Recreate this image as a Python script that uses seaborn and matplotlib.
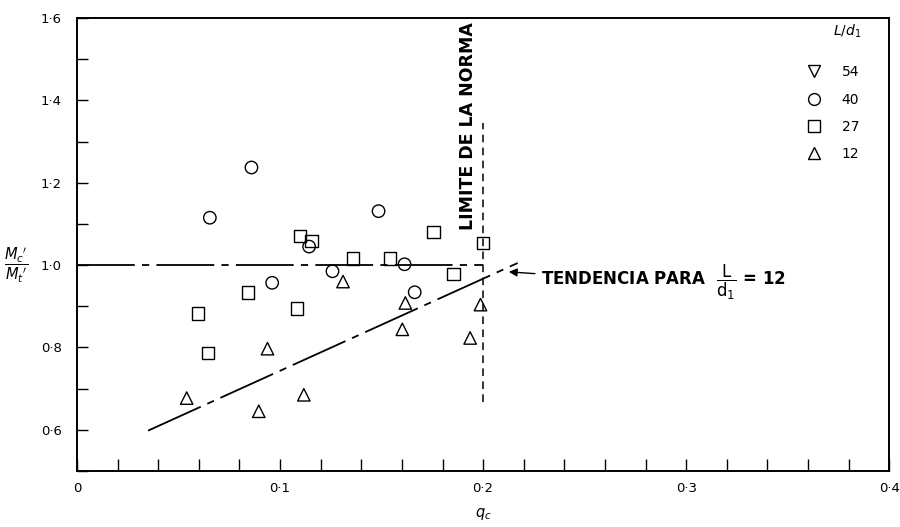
import numpy as np
import pandas as pd
import matplotlib
matplotlib.use("Agg")
import matplotlib.pyplot as plt
import seaborn as sns
from matplotlib.lines import Line2D
from matplotlib.ticker import MultipleLocator, FuncFormatter

# values
q_40 = [0.0654, 0.0859, 0.0961, 0.1143, 0.1258, 0.1485, 0.1613, 0.1663]
m_40 = [1.115, 1.237, 0.957, 1.045, 0.985, 1.131, 1.002, 0.934]

q_27 = [0.0597, 0.0646, 0.0843, 0.1084, 0.1097, 0.1154, 0.1359, 0.1540, 0.1756, 0.1854, 0.1999]
m_27 = [0.882, 0.787, 0.933, 0.895, 1.071, 1.058, 1.016, 1.016, 1.080, 0.979, 1.054]

q_12 = [0.0540, 0.0895, 0.0938, 0.1117, 0.1310, 0.1602, 0.1617, 0.1936, 0.1987]
m_12 = [0.677, 0.645, 0.797, 0.685, 0.960, 0.844, 0.908, 0.823, 0.904]

ref_x = [0.0, 0.2]
ref_y = [1.0, 1.0]
trend_x = [0.035, 0.217]
trend_y = [0.598, 1.005]
norma_x = [0.2, 0.2]
norma_y = [0.668, 1.346]

legend_labels = ["54", "40", "27", "12"]
legend_markers = ["v", "o", "s", "^"]

df = pd.concat([
    pd.DataFrame({"q": q_40, "m": m_40, "ld": "40"}),
    pd.DataFrame({"q": q_27, "m": m_27, "ld": "27"}),
    pd.DataFrame({"q": q_12, "m": m_12, "ld": "12"}),
])

sns.set_style("ticks")
plt.rcParams["font.family"] = ["DejaVu Sans"]
plt.rcParams["text.color"] = "black"
plt.rcParams["xtick.color"] = "black"
plt.rcParams["ytick.color"] = "black"
plt.rcParams["axes.labelcolor"] = "black"

fig = plt.figure(figsize=(9, 5.27), dpi=100)
ax = fig.add_axes([0.0856, 0.1063, 0.9024, 0.8595])

mk = {"40": "o", "27": "s", "12": "^"}
for ld, g in df.groupby("ld"):
    sns.scatterplot(data=g, x="q", y="m", marker=mk[ld], s=80,
                    facecolor="none", edgecolor="black", linewidth=1.0,
                    legend=False, ax=ax, zorder=3)

ax.plot(ref_x, ref_y, color="black", lw=1.3, linestyle=(0, (32, 4, 4, 4)))
ax.plot(trend_x, trend_y, color="black", lw=1.3, linestyle=(0, (32, 4, 4, 4)))
ax.plot(norma_x, norma_y, color="black", lw=1.1, linestyle=(0, (5, 3.5)))

ax.set_xlim(0, 0.4)
ax.set_ylim(0.5, 1.6)
ax.xaxis.set_major_locator(MultipleLocator(0.1))
ax.xaxis.set_minor_locator(MultipleLocator(0.02))
ax.yaxis.set_major_locator(MultipleLocator(0.2))
ax.yaxis.set_minor_locator(MultipleLocator(0.1))


def fmt(v, pos):
    if abs(v) < 1e-9:
        return "0"
    return f"{v:.1f}".replace(".", "\u00b7")


ax.xaxis.set_major_formatter(FuncFormatter(fmt))
ax.yaxis.set_major_formatter(FuncFormatter(fmt))
ax.tick_params(axis="both", which="both", direction="in", color="black",
               labelcolor="black", labelsize=9.5)
ax.tick_params(axis="x", which="both", length=9, width=1.0, pad=8)
ax.tick_params(axis="y", which="both", length=8, width=1.0, pad=11)
for s in ax.spines.values():
    s.set_linewidth(1.4)
    s.set_color("black")

ax.set_xlabel("$q_c$", fontsize=10.5, labelpad=8, color="black")
ax.set_ylabel("")
ax.text(-0.09, 1.0, r"$\dfrac{M_c{}'}{M_t{}'}$", fontsize=10.5,
        transform=ax.get_yaxis_transform(), ha="left", va="center", color="black")

ax.text(0.1925, 1.085, "LIMITE DE LA NORMA", rotation=90, ha="center", va="bottom",
        fontsize=12.5, fontweight="bold", color="black")

ax.annotate(r"TENDENCIA PARA  $\dfrac{\mathrm{L}}{\mathrm{d_1}}$ = 12", xy=(0.2113, 0.984),
            xytext=(0.2285, 0.958), ha="left", va="center", fontsize=12,
            fontweight="bold", color="black",
            arrowprops=dict(arrowstyle="-|>", color="black", lw=1.0, mutation_scale=12))

handles = [Line2D([], [], marker=m, color="black", markerfacecolor="none", linestyle="none",
                  markersize=8.5, markeredgewidth=1.0) for m in legend_markers]
leg = ax.legend(handles, legend_labels, loc="upper right",
                bbox_to_anchor=(0.975, 0.917), frameon=False, fontsize=10,
                labelspacing=0.95, handletextpad=1.0, borderpad=0.2)
for t in leg.get_texts():
    t.set_color("black")
ax.text(0.3795, 1.568, "$L/d_1$", fontsize=10, ha="center", va="center", color="black")

fig.savefig("out.png", dpi=100)
